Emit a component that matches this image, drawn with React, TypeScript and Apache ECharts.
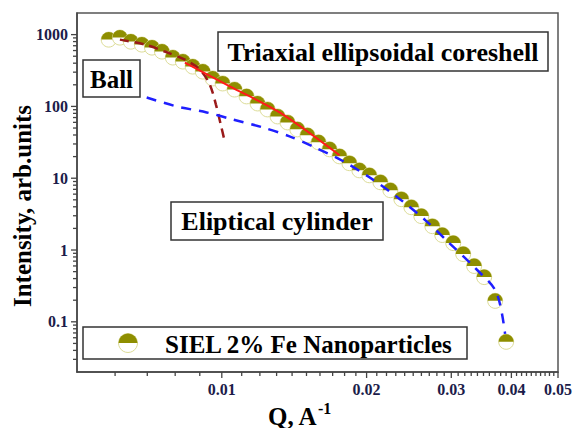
import React, { useEffect, useRef } from 'react';
import * as echarts from 'echarts';

// Measured data: SIEL 2% Fe Nanoparticles (Q in A^-1, intensity in arb. units)
const Q_DATA = [
  0.00582, 0.00614, 0.00647, 0.00682, 0.00716, 0.00751, 0.00791, 0.0083, 0.0087, 0.00913,
  0.00957, 0.01004, 0.01063, 0.01126, 0.01187, 0.01245, 0.01306, 0.0137, 0.01436, 0.01507,
  0.01589, 0.01675, 0.01757, 0.01842, 0.01932, 0.02027, 0.02137, 0.02241, 0.02362, 0.02478,
  0.02599, 0.0274, 0.02873, 0.03028, 0.03176, 0.03347, 0.03511, 0.03701, 0.03901,
];
const I_DATA = [
  852, 909, 799, 727, 660, 581, 480, 422, 359, 306,
  245, 209, 172, 138, 110, 90.9, 72.6, 59.9, 47.9, 39.6,
  31.6, 25.3, 20.2, 16.2, 12.9, 11.0, 8.8, 6.81, 5.11, 3.95,
  2.97, 2.15, 1.62, 1.25, 0.88, 0.6, 0.42, 0.196, 0.0527,
];

// Ball model fit (dark red dashed)
const BALL_Q = [0.00614, 0.00692, 0.00761, 0.00838, 0.009, 0.00944, 0.00972, 0.00995, 0.01014];
const BALL_I = [852, 727, 581, 449, 327, 202, 107, 56, 32.6];

// Triaxial ellipsoidal coreshell fit (red solid)
const CORESHELL_Q = [0.00838, 0.01039, 0.01319, 0.01757];
const CORESHELL_I = [408, 190, 82.5, 20.9];

// Eliptical cylinder fit (blue dashed)
const CYL_Q = [0.00698, 0.00806, 0.0093, 0.01053, 0.01216, 0.01383, 0.01559, 0.01773, 0.02027, 0.02317, 0.02662, 0.02943, 0.03347, 0.03719, 0.03881];
const CYL_I = [133, 100, 82.5, 65.9, 51.1, 38.3, 27.0, 17.8, 10.3, 5.45, 2.53, 1.33, 0.58, 0.261, 0.068];

// Axes
const X_MIN = 0.005;
const X_MAX = 0.05;
const Y_MIN = 0.02;
const Y_MAX = 2000;
const X_MAJOR = [0.01, 0.02, 0.03, 0.04, 0.05];
const X_LABELS = ['0.01', '0.02', '0.03', '0.04', '0.05'];
const X_MINOR = [
  0.006, 0.007, 0.008, 0.009,
  0.011, 0.012, 0.013, 0.014, 0.015, 0.016, 0.017, 0.018, 0.019,
  0.021, 0.022, 0.023, 0.024, 0.025, 0.026, 0.027, 0.028, 0.029,
  0.031, 0.032, 0.033, 0.034, 0.035, 0.036, 0.037, 0.038, 0.039,
  0.041, 0.042, 0.043, 0.044, 0.045, 0.046, 0.047, 0.048, 0.049,
];
const Y_MAJOR = [0.1, 1, 10, 100, 1000];
const Y_LABELS = ['0.1', '1', '10', '100', '1000'];
const Y_MINOR = [
  0.03, 0.04, 0.05, 0.06, 0.07, 0.08, 0.09,
  0.2, 0.3, 0.4, 0.5, 0.6, 0.7, 0.8, 0.9,
  2, 3, 4, 5, 6, 7, 8, 9,
  20, 30, 40, 50, 60, 70, 80, 90,
  200, 300, 400, 500, 600, 700, 800, 900,
];

const SERIES_NAME = 'SIEL 2% Fe Nanoparticles';
const OLIVE = '#8e8e00';
const MARKER_EDGE = '#dcdc96';
const AXIS_COLOR = '#444444';
const TICK_TEXT = '#1c1c4a';
const SERIF = '"Liberation Serif", "Times New Roman", serif';

function pairs(xs: number[], ys: number[]) {
  return xs.map((x, i) => [x, ys[i]]);
}

function buildOption(): any {
  const markerItem = (cx: number, cy: number, r: number) => ({
    type: 'group',
    children: [
      { type: 'circle', shape: { cx, cy, r }, style: { fill: '#ffffff', stroke: MARKER_EDGE, lineWidth: 1 } },
      { type: 'sector', shape: { cx, cy, r, r0: 0, startAngle: Math.PI, endAngle: Math.PI * 2 }, style: { fill: OLIVE } },
    ],
  });

  const xTickSeries = (values: number[], len: number) => ({
    type: 'custom',
    coordinateSystem: 'cartesian2d',
    silent: true,
    clip: false,
    z: 5,
    data: values.map((v) => [v, Y_MIN]),
    renderItem: (params: any, api: any) => {
      const p = api.coord([api.value(0), api.value(1)]);
      return {
        type: 'line',
        shape: { x1: p[0], y1: p[1], x2: p[0], y2: p[1] + len },
        style: { stroke: AXIS_COLOR, lineWidth: 1.3 },
      };
    },
  });

  const yTickSeries = (values: number[], len: number) => ({
    type: 'custom',
    coordinateSystem: 'cartesian2d',
    silent: true,
    clip: false,
    z: 5,
    data: values.map((v) => [X_MIN, v]),
    renderItem: (params: any, api: any) => {
      const p = api.coord([api.value(0), api.value(1)]);
      return {
        type: 'line',
        shape: { x1: p[0], y1: p[1], x2: p[0] - len, y2: p[1] },
        style: { stroke: AXIS_COLOR, lineWidth: 1.3 },
      };
    },
  });

  return {
    animation: false,
    backgroundColor: '#ffffff',
    grid: {
      left: 77,
      top: 13,
      width: 481,
      height: 359,
      show: true,
      borderColor: '#555555',
      borderWidth: 1.5,
      backgroundColor: 'transparent',
    },
    xAxis: {
      type: 'log',
      logBase: 10,
      min: X_MIN,
      max: X_MAX,
      axisLine: { show: true, lineStyle: { color: AXIS_COLOR, width: 1.5 } },
      axisTick: { show: false },
      axisLabel: { show: false },
      splitLine: { show: false },
      minorTick: { show: false },
    },
    yAxis: {
      type: 'log',
      logBase: 10,
      min: Y_MIN,
      max: Y_MAX,
      axisLine: { show: true, lineStyle: { color: AXIS_COLOR, width: 1.5 } },
      axisTick: { show: false },
      axisLabel: { show: false },
      splitLine: { show: false },
      minorTick: { show: false },
    },
    series: [
      {
        name: SERIES_NAME,
        type: 'custom',
        coordinateSystem: 'cartesian2d',
        z: 2,
        data: pairs(Q_DATA, I_DATA),
        renderItem: (params: any, api: any) => {
          const p = api.coord([api.value(0), api.value(1)]);
          return markerItem(p[0], p[1], 7.5);
        },
      },
      {
        name: 'Ball',
        type: 'line',
        z: 3,
        showSymbol: false,
        smooth: 0.3,
        data: pairs(BALL_Q, BALL_I),
        lineStyle: { color: '#9a1a1a', width: 2.5, type: [9, 6] },
      },
      {
        name: 'Triaxial ellipsoidal coreshell',
        type: 'line',
        z: 3,
        showSymbol: false,
        smooth: 0.3,
        data: pairs(CORESHELL_Q, CORESHELL_I),
        lineStyle: { color: '#ff1a1a', width: 2 },
      },
      {
        name: 'Eliptical cylinder',
        type: 'line',
        z: 3,
        showSymbol: false,
        smooth: 0.3,
        data: pairs(CYL_Q, CYL_I),
        lineStyle: { color: '#1f1fff', width: 2.5, type: [10, 8] },
      },
      xTickSeries(X_MAJOR, 6),
      xTickSeries(X_MINOR, 4),
      yTickSeries(Y_MAJOR, 6),
      yTickSeries(Y_MINOR, 4),
      {
        type: 'custom',
        coordinateSystem: 'cartesian2d',
        silent: true,
        clip: false,
        z: 5,
        data: X_MAJOR.map((v, i) => [v, Y_MIN, i]),
        renderItem: (params: any, api: any) => {
          const p = api.coord([api.value(0), api.value(1)]);
          return {
            type: 'text',
            x: p[0],
            y: p[1] + 17,
            style: {
              text: X_LABELS[api.value(2)],
              font: `bold 16px ${SERIF}`,
              fill: TICK_TEXT,
              align: 'center',
              verticalAlign: 'middle',
            },
          };
        },
      },
      {
        type: 'custom',
        coordinateSystem: 'cartesian2d',
        silent: true,
        clip: false,
        z: 5,
        data: Y_MAJOR.map((v, i) => [X_MIN, v, i]),
        renderItem: (params: any, api: any) => {
          const p = api.coord([api.value(0), api.value(1)]);
          return {
            type: 'text',
            x: p[0] - 9,
            y: p[1],
            style: {
              text: Y_LABELS[api.value(2)],
              font: `bold 16px ${SERIF}`,
              fill: TICK_TEXT,
              align: 'right',
              verticalAlign: 'middle',
            },
          };
        },
      },
    ],
    graphic: [
      // Ball label box
      {
        type: 'group',
        z: 10,
        children: [
          { type: 'rect', shape: { x: 83, y: 60, width: 57, height: 37 }, style: { fill: '#ffffff', stroke: '#333333', lineWidth: 1.5 } },
          { type: 'text', x: 111.5, y: 79, style: { text: 'Ball', font: `bold 25px ${SERIF}`, fill: '#000000', align: 'center', verticalAlign: 'middle' } },
        ],
      },
      // Triaxial label box
      {
        type: 'group',
        z: 10,
        children: [
          { type: 'rect', shape: { x: 218, y: 32, width: 330, height: 39 }, style: { fill: '#ffffff', stroke: '#333333', lineWidth: 1.5 } },
          { type: 'text', x: 383, y: 52, style: { text: 'Triaxial ellipsoidal coreshell', font: `bold 26px ${SERIF}`, fill: '#000000', align: 'center', verticalAlign: 'middle' } },
        ],
      },
      // Eliptical cylinder label box
      {
        type: 'group',
        z: 10,
        children: [
          { type: 'rect', shape: { x: 171, y: 202, width: 212, height: 38 }, style: { fill: '#ffffff', stroke: '#333333', lineWidth: 1.5 } },
          { type: 'text', x: 277, y: 221, style: { text: 'Eliptical cylinder', font: `bold 26px ${SERIF}`, fill: '#000000', align: 'center', verticalAlign: 'middle' } },
        ],
      },
      // Legend
      {
        type: 'group',
        z: 10,
        children: [
          { type: 'rect', shape: { x: 83, y: 327, width: 384, height: 32 }, style: { fill: '#ffffff', stroke: '#333333', lineWidth: 1.5 } },
          { type: 'circle', shape: { cx: 128, cy: 343, r: 9.5 }, style: { fill: '#ffffff', stroke: MARKER_EDGE, lineWidth: 1 } },
          { type: 'sector', shape: { cx: 128, cy: 343, r: 9.5, r0: 0, startAngle: Math.PI, endAngle: Math.PI * 2 }, style: { fill: OLIVE } },
          { type: 'text', x: 165, y: 344, style: { text: SERIES_NAME, font: `bold 25px ${SERIF}`, fill: '#000000', align: 'left', verticalAlign: 'middle' } },
        ],
      },
      // Axis titles
      {
        type: 'text',
        x: 22,
        y: 206,
        rotation: Math.PI / 2,
        style: { text: 'Intensity, arb.units', font: `bold 25px ${SERIF}`, fill: '#000000', align: 'center', verticalAlign: 'middle' },
      },
      {
        type: 'text',
        x: 268,
        y: 416,
        style: { text: 'Q, A', font: `bold 25px ${SERIF}`, fill: '#000000', align: 'left', verticalAlign: 'middle' },
      },
      {
        type: 'text',
        x: 318,
        y: 408,
        style: { text: '-1', font: `bold 16px ${SERIF}`, fill: '#000000', align: 'left', verticalAlign: 'middle' },
      },
    ],
  };
}

export default function App() {
  const ref = useRef<HTMLDivElement>(null);
  useEffect(() => {
    if (!ref.current) return;
    const chart = echarts.init(ref.current, null, { renderer: 'svg' });
    chart.setOption(buildOption());
    return () => {
      chart.dispose();
    };
  }, []);
  return (
    <div
      ref={ref}
      style={{ position: 'fixed', left: 0, top: 0, width: 574, height: 428, background: '#ffffff' }}
    />
  );
}
